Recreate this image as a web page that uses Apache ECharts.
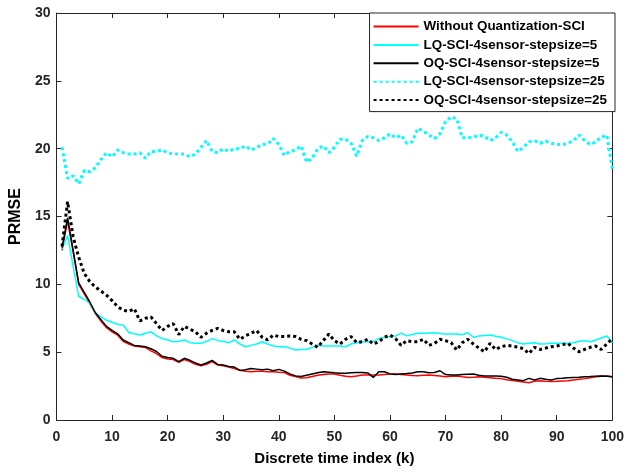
<!DOCTYPE html>
<html><head><meta charset="utf-8">
<script src="https://cdn.jsdelivr.net/npm/echarts@6/dist/echarts.min.js"></script>
<style>html,body{margin:0;padding:0;background:#fff}#c{width:627px;height:472px}</style>
</head><body><div id="c"></div>
<script>
const seriesNames = ['Without Quantization-SCI','LQ-SCI-4sensor-stepsize=5','OQ-SCI-4sensor-stepsize=5','LQ-SCI-4sensor-stepsize=25','OQ-SCI-4sensor-stepsize=25'];
const xTicks = [0,10,20,30,40,50,60,70,80,90,100];
const yTicks = [0,5,10,15,20,25,30];
const noQuant = [12.5,14.7,12.4,10.0,9.3,8.6,7.85,7.3,6.8,6.5,6.25,5.8,5.6,5.45,5.4,5.35,5.1,4.9,4.6,4.5,4.45,4.25,4.45,4.3,4.1,4.0,4.1,4.3,4.05,4.0,3.9,3.8,3.66,3.6,3.56,3.6,3.6,3.56,3.55,3.52,3.5,3.3,3.2,3.1,3.12,3.2,3.3,3.35,3.39,3.39,3.3,3.22,3.19,3.25,3.32,3.32,3.32,3.32,3.36,3.39,3.39,3.36,3.32,3.28,3.26,3.3,3.32,3.28,3.24,3.19,3.22,3.24,3.18,3.14,3.16,3.19,3.15,3.12,3.08,3.05,2.97,2.92,2.85,2.8,2.75,2.85,2.9,2.86,2.83,2.85,2.88,2.9,2.95,3.0,3.05,3.12,3.18,3.22,3.24,3.19];
const lq5 = [12.6,13.6,11.3,9.1,8.9,8.6,7.9,7.6,7.35,7.2,7.05,7.0,6.45,6.35,6.26,6.4,6.5,6.2,6.0,5.9,5.77,5.8,5.9,5.7,5.65,5.65,5.8,6.0,5.85,5.8,5.7,5.9,5.6,5.4,5.5,5.6,5.77,5.6,5.45,5.4,5.4,5.3,5.16,5.2,5.2,5.35,5.5,5.45,5.45,5.45,5.45,5.4,5.6,5.7,5.77,5.77,5.8,6.0,6.1,6.15,6.2,6.4,6.2,6.3,6.4,6.4,6.42,6.43,6.38,6.34,6.34,6.34,6.28,6.43,6.1,6.2,6.22,6.26,6.18,6.1,5.98,5.85,5.7,5.6,5.65,5.7,5.6,5.62,5.65,5.65,5.65,5.65,5.7,5.8,5.85,5.77,5.9,6.05,6.19,5.7];
const oq5 = [12.7,14.9,12.5,10.1,9.4,8.7,7.9,7.4,6.9,6.6,6.35,5.9,5.7,5.5,5.45,5.4,5.25,5.05,4.7,4.6,4.55,4.3,4.55,4.4,4.2,4.05,4.2,4.4,4.1,4.05,3.95,3.9,3.65,3.7,3.8,3.75,3.7,3.75,3.63,3.73,3.6,3.4,3.25,3.2,3.3,3.39,3.48,3.56,3.52,3.48,3.45,3.45,3.48,3.5,3.5,3.47,3.14,3.56,3.56,3.4,3.35,3.39,3.42,3.47,3.55,3.56,3.48,3.5,3.63,3.35,3.32,3.32,3.35,3.38,3.39,3.3,3.25,3.24,3.24,3.22,3.15,3.0,2.95,2.9,3.07,2.95,3.07,3.0,2.95,3.05,3.08,3.12,3.14,3.16,3.19,3.2,3.23,3.24,3.22,3.19];
const lq25 = [20.1,17.8,18.0,17.4,18.4,18.3,18.6,19.2,19.7,19.4,19.9,19.7,19.6,19.6,19.7,19.3,19.8,19.8,19.9,19.7,19.6,19.6,19.6,19.4,19.6,20.1,20.6,19.8,19.7,20.0,19.8,20.0,20.0,20.2,19.9,20.1,20.3,20.35,20.75,20.3,19.5,19.8,19.9,20.2,19.0,19.3,20.0,20.2,19.7,20.1,20.7,20.7,20.4,19.45,20.6,20.9,20.8,20.6,20.8,21.1,20.8,21.0,20.4,20.5,21.5,21.3,21.0,20.75,21.1,22.0,22.35,22.2,20.8,20.8,20.85,21.0,20.9,20.6,20.8,21.2,21.0,20.5,19.8,20.1,20.5,20.6,20.4,20.55,20.4,20.3,20.3,20.4,20.6,21.0,20.6,20.3,20.5,20.85,21.0,18.5];
const oq25 = [12.8,16.1,13.5,12.0,10.8,10.2,9.8,9.5,9.2,8.8,8.35,8.1,8.0,8.2,7.3,7.5,7.6,7.1,6.6,6.9,7.1,6.3,6.9,6.7,6.5,6.1,6.4,6.6,6.75,6.6,6.5,6.5,5.95,6.2,6.4,6.6,6.1,5.9,6.26,6.15,6.15,6.2,6.15,5.95,5.85,5.6,5.36,5.85,6.34,5.85,5.6,5.95,6.15,5.7,5.77,5.95,5.6,5.77,6.1,6.26,6.0,5.5,5.85,5.77,5.77,5.95,5.5,5.65,5.95,5.85,5.7,5.16,5.7,5.95,5.6,5.3,5.03,5.65,5.2,5.4,5.5,5.45,5.38,5.25,4.9,5.36,5.2,5.3,5.4,5.45,5.55,5.65,5.3,5.03,5.2,5.36,5.45,5.2,5.6,6.0];

const pairs = arr => arr.map((v,i)=>[i+1,v]);
const FONT = '"Liberation Sans", Arial, sans-serif';
const AX = '#262626';
const chart = echarts.init(document.getElementById('c'), null, {renderer:'canvas'});
const axCommon = {
  axisLine:{show:true,onZero:false,lineStyle:{color:AX,width:1}},
  axisTick:{show:true,inside:true,length:5,lineStyle:{color:AX}},
  splitLine:{show:false}
};
chart.setOption({
  backgroundColor:'#fff',
  animation:false,
  grid:{left:54,right:12,top:13,bottom:52,containLabel:false},
  xAxis:[
    Object.assign({type:'value',min:0,max:100,interval:10,position:'bottom',
      name:'Discrete time index (k)',nameLocation:'middle',nameGap:31,
      nameTextStyle:{fontFamily:FONT,fontWeight:'bold',fontSize:15,color:'#000'},
      axisLabel:{fontFamily:FONT,fontWeight:'bold',fontSize:14,color:AX,margin:10,
        formatter:v=>xTicks.includes(v)?String(v):''}},axCommon),
    Object.assign({type:'value',min:0,max:100,interval:10,position:'top',axisLabel:{show:false}},axCommon)
  ],
  yAxis:[
    Object.assign({type:'value',min:0,max:30,interval:5,position:'left',
      name:'PRMSE',nameLocation:'middle',nameGap:29,nameRotate:90,
      nameTextStyle:{fontFamily:FONT,fontWeight:'bold',fontSize:16,color:'#000'},
      axisLabel:{fontFamily:FONT,fontWeight:'bold',fontSize:14,color:AX,margin:6,
        formatter:v=>yTicks.includes(v)?String(v):''}},axCommon),
    Object.assign({type:'value',min:0,max:30,interval:5,position:'right',axisLabel:{show:false}},axCommon)
  ],
  legend:{
    orient:'vertical',right:12,top:13,
    backgroundColor:'#fff',borderColor:AX,borderWidth:1,borderRadius:0,
    padding:[7,8,5,3],itemWidth:45,itemHeight:14,itemGap:5.4,
    itemStyle:{opacity:0},
    textStyle:{fontFamily:FONT,fontWeight:'bold',fontSize:13.4,color:'#000'},
    data:seriesNames
  },
  series:[
    {name:seriesNames[0],type:'line',data:pairs(noQuant),symbol:'none',lineStyle:{color:'#ff0000',width:1.5},itemStyle:{color:'#ff0000'}},
    {name:seriesNames[1],type:'line',data:pairs(lq5),symbol:'none',lineStyle:{color:'#00ffff',width:1.5},itemStyle:{color:'#00ffff'}},
    {name:seriesNames[2],type:'line',data:pairs(oq5),symbol:'none',lineStyle:{color:'#000000',width:1.5},itemStyle:{color:'#000000'}},
    {name:seriesNames[3],type:'line',data:pairs(lq25),symbol:'none',lineStyle:{color:'#00ffff',width:3,type:[3,3]},itemStyle:{color:'#00ffff'}},
    {name:seriesNames[4],type:'line',data:pairs(oq25),symbol:'none',lineStyle:{color:'#000000',width:3,type:[3,3]},itemStyle:{color:'#000000'}}
  ]
});
</script></body></html>
